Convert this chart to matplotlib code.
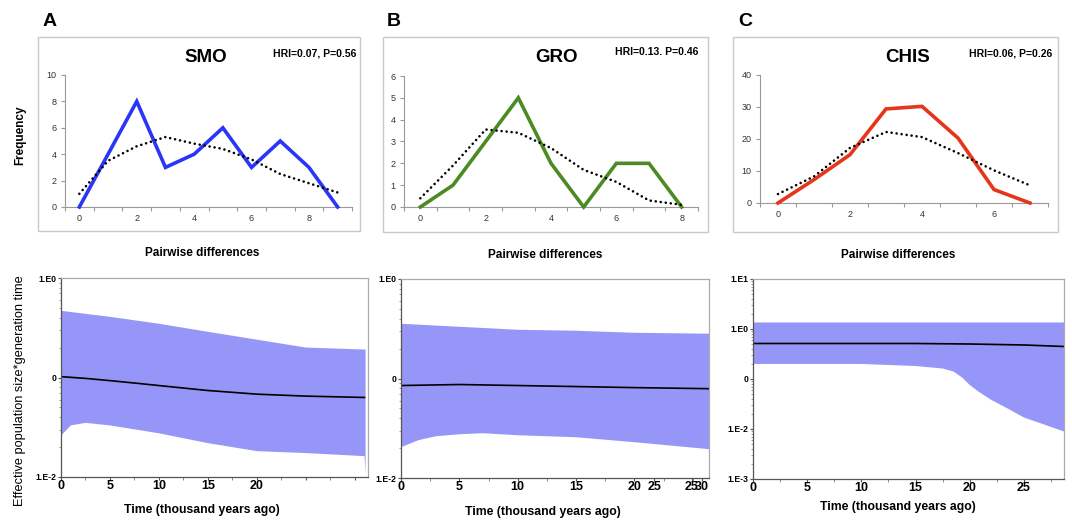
import matplotlib
matplotlib.use("Agg")
import matplotlib.pyplot as plt
from matplotlib.patches import Rectangle
from matplotlib.ticker import NullFormatter, LogLocator, MultipleLocator

plt.rcParams['font.family'] = ['Liberation Sans', 'DejaVu Sans']

# ---------------- data: mismatch distributions ----------------
smo_x = [0, 1, 2, 3, 4, 5, 6, 7, 8, 9]
smo_obs = [0, 4, 8, 3, 4, 6, 3, 5, 3, 0]
smo_exp = [1.0, 3.5, 4.6, 5.3, 4.8, 4.4, 3.6, 2.5, 1.8, 1.1]

gro_x = [0, 1, 2, 3, 4, 5, 6, 7, 8]
gro_obs = [0, 1, 3, 5, 2, 0, 2, 2, 0]
gro_exp = [0.4, 1.9, 3.55, 3.4, 2.7, 1.7, 1.15, 0.3, 0.1]

chis_x = [0, 1, 2, 3, 4, 5, 6, 7]
chis_obs = [0, 7.3, 15.1, 29.4, 30.2, 20.3, 4.2, 0]
chis_exp = [2.8, 8.3, 17.2, 22.2, 20.6, 15.6, 10.2, 5.5]

# ---------------- data: Bayesian skyline plots ----------------
a_t_up = [0, 5, 10, 15, 20, 25, 31.0, 31.1]
a_up = [0.468, 0.407, 0.347, 0.288, 0.240, 0.200, 0.191, 0.191]
a_t_lo = [0, 1, 2.5, 5, 10, 15, 20, 25, 31.0, 31.1]
a_lo = [0.026, 0.033, 0.035, 0.033, 0.0275, 0.0219, 0.0182, 0.0174, 0.0162, 0.0105]
a_t_med = [0, 2.5, 5, 7.5, 10, 15, 20, 25, 31]
a_med = [0.102, 0.098, 0.093, 0.088, 0.083, 0.074, 0.068, 0.065, 0.063]

b_t_up = [0, 5, 10, 15, 20, 26.4]
b_up = [0.355, 0.331, 0.309, 0.302, 0.288, 0.282]
b_t_lo = [0, 1.5, 3, 5, 7, 10, 15, 20, 26.4]
b_lo = [0.0204, 0.024, 0.0263, 0.0275, 0.0282, 0.0269, 0.0257, 0.0229, 0.0195]
b_t_med = [0, 5, 10, 15, 20, 26.4]
b_med = [0.085, 0.087, 0.085, 0.083, 0.081, 0.079]

c_t_up = [0, 28.7]
c_up = [1.35, 1.35]
c_t_lo = [0, 10, 15, 17.5, 18.5, 19.3, 20, 20.8, 22, 23.5, 25, 27, 28.7]
c_lo = [0.200, 0.200, 0.182, 0.162, 0.141, 0.107, 0.0759, 0.0562, 0.0380,
        0.0257, 0.0170, 0.0120, 0.0089]
c_t_med = [0, 15, 20, 25, 28.7]
c_med = [0.513, 0.513, 0.501, 0.479, 0.447]

W, H = 1072, 520
fig = plt.figure(figsize=(W / 100, H / 100), dpi=100)


def fx(px):
    return px / W


def fy(py):
    return 1 - py / H


def rect(x0, y0, x1, y1):
    return [fx(x0), fy(y1), fx(x1) - fx(x0), fy(y0) - fy(y1)]


# panel frames
for (x0, y0, x1, y1) in [(38, 37, 360, 231), (383, 37, 708, 232), (733, 37, 1058, 232)]:
    fig.add_artist(Rectangle((fx(x0), fy(y1)), fx(x1) - fx(x0), fy(y0) - fy(y1),
                             transform=fig.transFigure, fill=False,
                             edgecolor='#c8c8c8', lw=1.0))


def top_panel(r, x, obs, exp, color, xmax, ymax, ystep):
    ax = fig.add_axes(r)
    ax.plot(x, obs, color=color, lw=2.6, solid_joinstyle='miter', clip_on=False, zorder=3)
    ax.plot(x, exp, color='black', lw=1.9, linestyle=(0, (0.01, 1.9)),
            dash_capstyle='round', clip_on=False, zorder=4)
    ax.set_xlim(-0.5, xmax)
    ax.set_ylim(0, ymax)
    for s in ['top', 'right']:
        ax.spines[s].set_visible(False)
    for s in ['left', 'bottom']:
        ax.spines[s].set_color('#999999')
        ax.spines[s].set_linewidth(0.8)
    ax.set_xticks(list(range(0, int(xmax) + 1, 2)))
    ax.xaxis.set_minor_locator(MultipleLocator(1, offset=0.5))
    ax.tick_params(axis='x', which='major', length=0, pad=5, labelsize=6.5, labelcolor='#333333')
    ax.tick_params(axis='x', which='minor', length=3, color='#999999', width=0.8)
    ax.set_yticks([ystep * i for i in range(int(round(ymax / ystep)) + 1)])
    ax.tick_params(axis='y', which='major', length=3, color='#999999', width=0.8,
                   pad=3, labelsize=6.5, labelcolor='#333333')
    ax.patch.set_alpha(0)
    return ax


top_panel(rect(65, 75, 352, 207), smo_x, smo_obs, smo_exp, '#2a36f5', 9.5, 10, 2)
top_panel(rect(404, 76, 698, 207), gro_x, gro_obs, gro_exp, '#4c8b24', 8.5, 6, 1)
top_panel(rect(760, 75, 1048, 203), chis_x, chis_obs, chis_exp, '#e5361b', 7.5, 40, 10)

band = '#9696f8'


def bottom_panel(r, t_up, up, t_lo, lo, t_med, med, xmax, ylim, yticks, ylabels,
                 xticks, xlabels):
    ax = fig.add_axes(r)
    ax.set_yscale('log')
    px = list(t_up) + list(t_lo)[::-1]
    py = list(up) + list(lo)[::-1]
    ax.fill(px, py, color=band, lw=0, zorder=1)
    ax.plot(t_med, med, color='black', lw=1.2, zorder=2)
    ax.set_xlim(0, xmax)
    ax.set_ylim(*ylim)
    ax.set_yticks(yticks)
    ax.set_yticklabels(ylabels)
    ax.yaxis.set_minor_locator(LogLocator(base=10, subs=range(2, 10)))
    ax.yaxis.set_minor_formatter(NullFormatter())
    ax.set_xticks(xticks)
    ax.set_xticklabels(xlabels)
    ax.xaxis.set_minor_locator(MultipleLocator(2.5))
    for lab in ax.get_xticklabels():
        lab.set_fontweight('bold')
    for lab in ax.get_yticklabels():
        lab.set_fontweight('bold')
    ax.tick_params(axis='x', which='major', length=2, pad=0, labelsize=9, color='#555555')
    ax.tick_params(axis='x', which='minor', length=2, color='#777777', width=0.6)
    ax.tick_params(axis='y', which='major', length=2, pad=1, labelsize=6.2, color='#555555')
    ax.tick_params(axis='y', which='minor', length=1.5, color='#777777', width=0.5)
    for s in ['left', 'bottom']:
        ax.spines[s].set_color('#555555')
        ax.spines[s].set_linewidth(0.9)
    for s in ['top', 'right']:
        ax.spines[s].set_color('#aaaaaa')
        ax.spines[s].set_linewidth(0.9)
    return ax


bottom_panel(rect(61, 278, 368, 477), a_t_up, a_up, a_t_lo, a_lo, a_t_med, a_med,
             31.35, (0.01, 1.0), [0.01, 0.1, 1.0], ['1.E-2', '0', '1.E0'],
             [0, 5, 10, 15, 20, 25, 30], ['0', '5', '10', '15', '20', '', ''])
bottom_panel(rect(401, 279, 709, 478), b_t_up, b_up, b_t_lo, b_lo, b_t_med, b_med,
             26.4, (0.01, 1.0), [0.01, 0.1, 1.0], ['1.E-2', '0', '1.E0'],
             [0, 5, 10, 15, 20, 21.7, 24.9, 25.8],
             ['0', '5', '10', '15', '20', '25', '25', '30'])
bottom_panel(rect(753, 279, 1064, 479), c_t_up, c_up, c_t_lo, c_lo, c_t_med, c_med,
             28.7, (0.001, 10.0), [0.001, 0.01, 0.1, 1.0, 10.0],
             ['1.E-3', '1.E-2', '0', '1.E0', '1.E1'],
             [0, 5, 10, 15, 20, 25], ['0', '5', '10', '15', '20', '25'])

# ---------------- texts ----------------
for lab, x, y in [('A', 50, 22), ('B', 394, 21), ('C', 745, 21)]:
    fig.text(fx(x), fy(y), lab, fontsize=14, fontweight='bold', ha='center', va='center')

for lab, x in [('SMO', 206), ('GRO', 557), ('CHIS', 908)]:
    fig.text(fx(x), fy(58), lab, fontsize=13.5, fontweight='bold', ha='center', va='center')

for lab, x, y in [('HRI=0.07, P=0.56', 356, 53), ('HRI=0.13. P=0.46', 698, 52),
                  ('HRI=0.06, P=0.26', 1052, 53)]:
    fig.text(fx(x), fy(y), lab, fontsize=7.5, fontweight='bold', ha='right', va='center')

fig.text(fx(20), fy(135), 'Frequency', fontsize=8.5, fontweight='bold', rotation=90,
         ha='center', va='center')
for x, y in [(202, 253), (545, 255), (898, 255)]:
    fig.text(fx(x), fy(y), 'Pairwise differences', fontsize=8.5, fontweight='bold',
             ha='center', va='center')

fig.text(fx(20), fy(391), 'Effective population size*generation time', fontsize=9.2,
         rotation=90, ha='center', va='center')
for x, y in [(202, 510), (543, 512), (898, 507)]:
    fig.text(fx(x), fy(y), 'Time (thousand years ago)', fontsize=8.8, fontweight='bold',
             ha='center', va='center')

fig.savefig('out.png', dpi=100)
